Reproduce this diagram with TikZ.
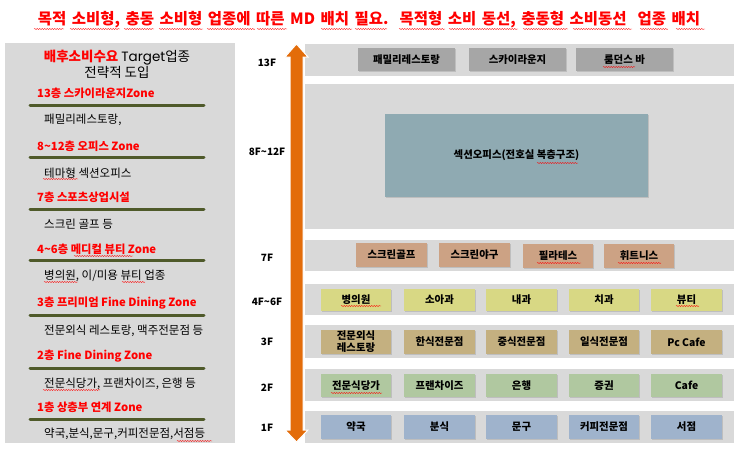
\documentclass[tikz,border=0pt]{standalone}
\usepackage{fontspec}
\setmainfont{Noto Sans CJK KR}
\newfontfamily\latn{Poppins}
\usetikzlibrary{shadows,decorations.pathmorphing}
\definecolor{band}{HTML}{D9D9D9}
\definecolor{barc}{HTML}{4F5A2A}
\definecolor{orng}{HTML}{E36C0A}
\definecolor{cA}{HTML}{A6A6A6}
\definecolor{cB}{HTML}{8FAAB2}
\definecolor{cC}{HTML}{CCA284}
\definecolor{cD}{HTML}{D8D884}
\definecolor{cE}{HTML}{C4B080}
\definecolor{cF}{HTML}{B0C8A0}
\definecolor{cG}{HTML}{9FB3CC}
\tikzset{
 bandbox/.style={fill=band,draw=none},
 room/.style={fill=#1,draw=none,drop shadow={shadow xshift=.8pt,shadow yshift=-.8pt,opacity=.12,fill=black},font=\bfseries\fontsize{10.4}{12}\selectfont,align=center,inner sep=0pt},
 zone/.style={anchor=west,text=red,font=\bfseries\fontsize{11.3}{13}\selectfont,inner sep=0pt},
 item/.style={anchor=west,font=\fontsize{11.5}{13}\selectfont,inner sep=0pt},
 floorlab/.style={font=\bfseries\fontsize{10}{12}\selectfont,inner sep=0pt},
 divider/.style={draw=barc,line width=3pt,line cap=round},
 squig/.style={draw=red,line width=.4pt,decorate,decoration={snake,amplitude=.5pt,segment length=2.5pt}}
}
\newcommand{\roomat}[7]{\node[room=#6,minimum width=#3 pt-#1 pt,minimum height=#4 pt-#2 pt] (#5) at ({(#1+#3)/2},{(#2+#4)/2}) {#7};}
\newcommand{\band}[4]{\path[bandbox] (305,#1) rectangle (734,#2); \node[floorlab] (f#1) at (267,#4) {#3};}
\begin{document}
\begin{tikzpicture}[x=1pt,y=-1pt]
\useasboundingbox (0,0) rectangle (740,450);
\fill[white] (0,0) rectangle (740,450);
% title
\node[text=red,font=\bfseries\fontsize{15.5}{18}\selectfont,inner sep=0pt] (title) at (369,20) {\spaceskip=5.5pt 목적 소비형, 충동 소비형 업종에 따른 MD 배치 필요.\ \ 목적형 소비 동선, 충동형 소비동선\ \ 업종 배치};
\foreach \a/\b in {34/64,70/120,124/154,159/203,207/255,257/287,321/352,355/387,399/445,449/518,523/568,573/632,640/668,676/705}{\draw[squig] (\a,29) -- (\b,29);}
% left panel
\path[bandbox] (5,43) rectangle (235,443);
\node[inner sep=0pt,font=\fontsize{13.5}{15}\selectfont] (head1) at (117,58) {\textcolor{red}{\bfseries 배후소비수요} {\latn Target}업종};
\node[inner sep=0pt,font=\fontsize{13.5}{15}\selectfont] (head2) at (117,72) {전략적 도입};
\foreach \yz/\yb/\yi/\z/\t in {
 93/105/120/13층 스카이라운지Zone/{패밀리레스토랑,},
 146/157.5/173/8\textasciitilde12층 오피스 Zone/테마형 섹션오피스,
 197/209/224/7층 스포츠상업시설/스크린 골프 등,
 249/260/276/4\textasciitilde6층 메디컬 뷰티 Zone/{병의원, 이/미용 뷰티 업종},
 303/315/331/3층 프리미엄 Fine Dining Zone/{전문외식 레스토랑, 맥주전문점 등},
 356/368/384/2층 Fine Dining Zone/{전문식당가, 프랜차이즈, 은행 등},
 407/419/434/1층 상층부 연계 Zone/{약국,분식,문구,커피전문점,서점등}}{
 \node[zone] (z\yz) at (37,\yz) {\z};
 \draw[divider] (30,\yb) -- (204,\yb);
 \node[item] (i\yz) at (44,\yi) {\t};
}
% bands
\band{44}{76}{13F}{63}
\band{84}{229}{8F\textasciitilde12F}{152}
\band{240}{271}{7F}{258}
\band{284}{315}{4F\textasciitilde6F}{302}
\band{325}{358}{3F}{342}
\band{369}{401}{2F}{388}
\band{411}{443}{1F}{428}
% arrow
\path[fill=orng,draw=white,line width=1pt] (296.5,44) -- (308,57) -- (303,57) -- (303,430) -- (308,430) -- (296.5,442) -- (285,430) -- (290,430) -- (290,57) -- (285,57) -- cycle;
% rooms
\roomat{358}{48}{455}{71}{a1}{cA}{패밀리레스토랑}
\roomat{469}{48}{566}{71}{a2}{cA}{스카이라운지}
\roomat{576}{48}{673}{71}{a3}{cA}{룸던스 바}
\roomat{385}{114}{648}{197}{b1}{cB}{섹션오피스(전호실 복층구조)}
\roomat{356}{243}{427}{267}{c1}{cC}{스크린골프}
\roomat{439}{243}{510}{267}{c2}{cC}{스크린야구}
\roomat{523}{244}{593}{268}{c3}{cC}{필라테스}
\roomat{604}{244}{674}{268}{c4}{cC}{휘트니스}
\roomat{321}{289}{391}{311}{d1}{cD}{병의원}
\roomat{404}{289}{475}{311}{d2}{cD}{소아과}
\roomat{486}{289}{557}{311}{d3}{cD}{내과}
\roomat{569}{289}{639}{311}{d4}{cD}{치과}
\roomat{651}{289}{722}{311}{d5}{cD}{뷰티}
\roomat{321}{330}{391}{354}{e1}{cE}{전문외식\\레스토랑}
\roomat{404}{330}{475}{354}{e2}{cE}{한식전문점}
\roomat{486}{330}{557}{354}{e3}{cE}{중식전문점}
\roomat{569}{330}{639}{354}{e4}{cE}{일식전문점}
\roomat{651}{330}{722}{354}{e5}{cE}{Pc Cafe}
\roomat{321}{374}{391}{397}{g1}{cF}{전문식당가}
\roomat{404}{374}{475}{397}{g2}{cF}{프랜차이즈}
\roomat{486}{374}{557}{397}{g3}{cF}{은행}
\roomat{569}{374}{639}{397}{g4}{cF}{증권}
\roomat{651}{374}{722}{397}{g5}{cF}{Cafe}
\roomat{321}{415}{391}{439}{h1}{cG}{약국}
\roomat{404}{415}{475}{439}{h2}{cG}{분식}
\roomat{486}{415}{557}{439}{h3}{cG}{문구}
\roomat{569}{415}{639}{439}{h4}{cG}{커피전문점}
\roomat{651}{415}{722}{439}{h5}{cG}{서점}
% spell-check squiggles
\foreach \a/\b/\y in {43/78/179,74/133/256,44/78/282,122/145/282,43/100/390,177/212/441,
 537/578/163,603/635/67,537/581/263,618/661/263,676/699/306,341/381/306,331/382/393}{\draw[squig] (\a,\y) -- (\b,\y);}
\end{tikzpicture}
\end{document}
